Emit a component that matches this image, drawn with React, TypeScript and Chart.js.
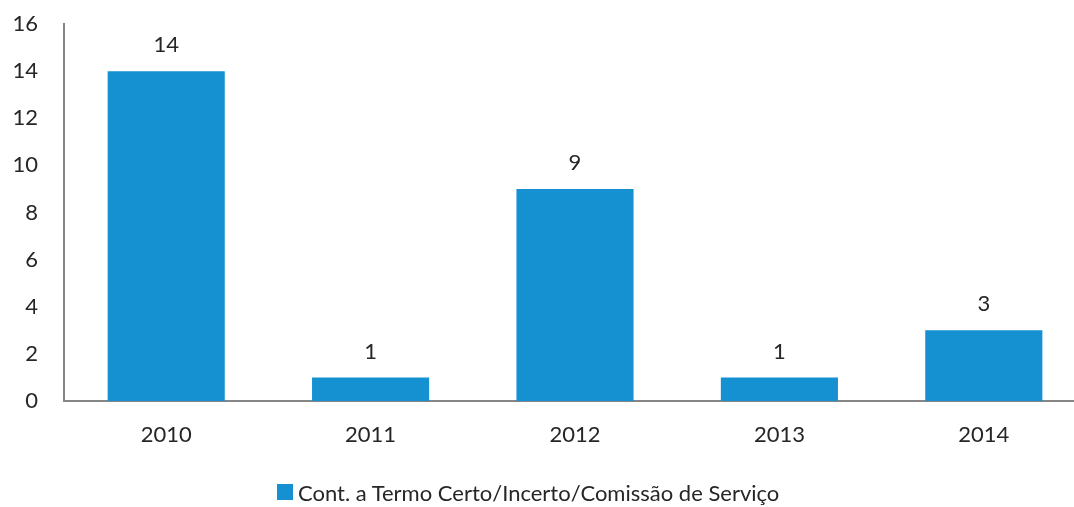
import React, { useEffect, useRef } from "react";
import { Chart, registerables } from "chart.js";

Chart.register(...registerables);

const categories: string[] = ["2010", "2011", "2012", "2013", "2014"];
const seriesName = "Cont. a Termo Certo/Incerto/Comissão de Serviço";
const values: number[] = [14, 1, 9, 1, 3];
const yTicks: number[] = [0, 2, 4, 6, 8, 10, 12, 14, 16];

const BAR_COLOR = "#1591D1";
const TEXT_COLOR = "#262626";
const AXIS_COLOR = "#868686";
const FONT_FAMILY = "Lato, 'Open Sans', sans-serif";
const FONT_SIZE = 22;

const valueLabels = {
  id: "valueLabels",
  afterDatasetsDraw(chart: any) {
    const ctx = chart.ctx;
    const meta = chart.getDatasetMeta(0);
    ctx.save();
    ctx.font = `${FONT_SIZE}px ${FONT_FAMILY}`;
    ctx.fillStyle = TEXT_COLOR;
    ctx.textAlign = "center";
    ctx.textBaseline = "middle";
    meta.data.forEach((el: any, i: number) => {
      ctx.fillText(String(values[i]), el.x, el.y - 26);
    });
    ctx.restore();
  },
};

export default function App() {
  const ref = useRef<HTMLCanvasElement | null>(null);
  useEffect(() => {
    if (!ref.current) return;
    const chart = new Chart(ref.current, {
      type: "bar",
      data: {
        labels: categories,
        datasets: [
          {
            label: seriesName,
            data: values,
            backgroundColor: BAR_COLOR,
            barPercentage: 0.573,
            categoryPercentage: 1,
          },
        ],
      },
      options: {
        responsive: false,
        animation: false,
        layout: { padding: { top: 24, bottom: 0, left: 0, right: 0 } },
        plugins: { legend: { display: false }, tooltip: { enabled: false } },
        scales: {
          x: {
            grid: { display: false, drawTicks: false },
            border: { display: true, color: AXIS_COLOR, width: 2 },
            ticks: {
              color: TEXT_COLOR,
              font: { family: FONT_FAMILY, size: FONT_SIZE },
              padding: 21,
              maxRotation: 0,
            },
            afterFit: (s: any) => {
              s.height = 106;
              s.paddingLeft = 0;
              s.paddingRight = 0;
            },
          },
          y: {
            min: 0,
            max: 16,
            afterBuildTicks: (s: any) => {
              s.ticks = yTicks.map((v) => ({ value: v }));
            },
            grid: { display: false, drawTicks: false },
            border: { display: true, color: AXIS_COLOR, width: 2 },
            ticks: {
              color: TEXT_COLOR,
              font: { family: FONT_FAMILY, size: FONT_SIZE },
              padding: 26,
            },
            afterFit: (s: any) => {
              s.width = 64;
              s.paddingTop = 0;
              s.paddingBottom = 0;
            },
          },
        },
      },
      plugins: [valueLabels],
    });
    return () => chart.destroy();
  }, []);

  return (
    <div
      style={{
        position: "fixed",
        left: 0,
        top: 0,
        width: 1074,
        height: 507,
        overflow: "hidden",
        background: "#fff",
      }}
    >
      <canvas ref={ref} width={1086} height={507} style={{ display: "block" }} />
      <div
        style={{
          position: "absolute",
          left: 277,
          top: 477,
          height: 30,
          display: "flex",
          alignItems: "center",
          fontFamily: FONT_FAMILY,
          fontSize: FONT_SIZE,
          color: TEXT_COLOR,
          whiteSpace: "nowrap",
        }}
      >
        <span
          style={{
            display: "inline-block",
            width: 16,
            height: 16,
            background: BAR_COLOR,
            marginRight: 5,
          }}
        />
        <span>{seriesName}</span>
      </div>
    </div>
  );
}
